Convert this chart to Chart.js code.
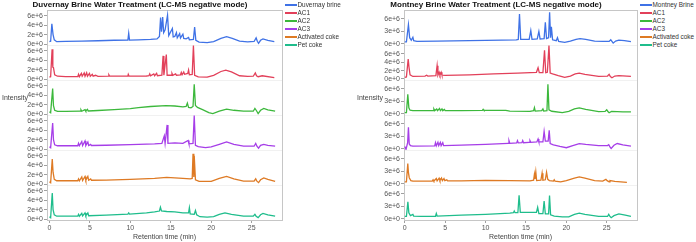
<!DOCTYPE html>
<html>
<head>
<meta charset="utf-8">
<script src="https://cdn.jsdelivr.net/npm/chart.js@4/dist/chart.umd.min.js"></script>
<style>
  html, body { margin: 0; padding: 0; background: #fff; }
  #wrap { position: relative; width: 696px; height: 242px; overflow: hidden; font-family: 'Liberation Sans', Arial, sans-serif; }
  canvas { position: absolute; top: 0; }
  .ttl { position: absolute; top: 0; height: 10px; line-height: 10px; font-weight: bold; font-size: 8px; color: #111; text-align: center; white-space: nowrap; }
  .ylab { position: absolute; font-size: 7px; line-height: 10px; color: #444; }
  .legend { position: absolute; top: 1px; margin: 0; padding: 0; list-style: none; font-size: 6.4px; color: #333; }
  .legend li { height: 8px; line-height: 8px; display: flex; align-items: center; white-space: nowrap; }
  .legend i { display: inline-block; width: 11.5px; height: 1.5px; margin-right: 1px; }
</style>
</head>
<body>
<div id="wrap">
  <canvas id="duvChart" width="290" height="242" style="left:0"></canvas>
  <canvas id="monChart" width="290" height="242" style="left:350px"></canvas>
  <div class="ttl" style="left:0;width:280px">Duvernay Brine Water Treatment (LC-MS negative mode)</div>
  <div class="ttl" style="left:356px;width:280px">Montney Brine Water Treatment (LC-MS negative mode)</div>
  <div class="ylab" style="left:2px;top:93px">Intensity</div>
  <div class="ylab" style="left:357px;top:93px">Intensity</div>
  <ul class="legend" id="duvLegend" style="left:285px"></ul>
  <ul class="legend" id="monLegend" style="left:640px"></ul>
</div>
<script>
// retention time (min), intensity in millions

// Duvernay panel
const duvBrine = [[0,0.5],[0.15,0.6],[0.3,4.3],[0.45,2.0],[0.6,0.9],[0.9,0.5],[2,0.55],[4,0.6],[6,0.7],[8,0.8],[9.7,0.85],[9.8,2.3],[9.9,0.85],[11,0.9],[12.5,1.0],[13.3,1.1],[13.6,1.6],[13.74,5.6],[13.85,2.6],[14.0,5.7],[14.12,2.4],[14.3,3.0],[14.6,6.1],[14.75,1.8],[15.2,3.3],[15.3,1.5],[15.5,1.6],[15.7,2.4],[15.8,1.3],[16.1,2.2],[16.2,1.3],[16.5,2.1],[16.6,1.2],[16.9,1.1],[17.2,1.4],[17.3,0.9],[17.8,1.0],[17.95,3.6],[18.1,0.8],[18.5,0.4],[19.5,0.3],[20.3,0.5],[21.2,1.2],[21.9,1.55],[22.6,1.2],[23.5,0.6],[24.5,0.45],[25.3,0.55],[25.55,1.3],[25.7,0.6],[25.85,0.15],[26.1,0.8],[26.4,1.1],[27,0.8],[27.8,0.5]];
const duvAC1 = [[0,0.4],[0.15,0.5],[0.33,6.3],[0.42,2.5],[0.5,2.4],[0.65,0.9],[1,0.6],[2,0.5],[3.5,0.5],[3.6,1.0],[3.7,0.5],[3.95,1.2],[4.05,0.6],[4.3,1.3],[4.4,0.6],[4.6,1.35],[4.7,0.6],[4.95,1.2],[5.05,0.6],[5.3,1.0],[5.4,0.6],[5.7,0.8],[6,0.55],[7.3,0.6],[7.35,0.9],[7.45,0.6],[9.7,0.6],[9.75,1.0],[9.85,0.6],[12,0.65],[12.3,0.7],[12.4,1.1],[12.5,0.7],[12.9,1.1],[13.0,0.7],[13.25,1.2],[13.35,0.7],[13.9,0.8],[14.05,4.9],[14.15,0.8],[14.45,5.2],[14.55,0.8],[15.1,0.8],[15.15,1.2],[15.25,0.8],[15.6,1.1],[15.7,0.8],[16.2,0.9],[16.3,1.4],[16.4,0.9],[16.6,1.5],[16.7,1.0],[17.1,1.2],[17.2,1.9],[17.3,0.9],[17.65,1.0],[17.8,7.1],[17.95,0.8],[18.4,0.45],[19.5,0.4],[20.3,0.8],[21.2,1.6],[21.8,1.9],[22.5,1.5],[23.5,0.7],[24.5,0.55],[25.2,0.6],[25.45,1.3],[25.6,0.7],[25.8,0.5],[26.3,0.7],[27.8,0.3]];
const duvAC2 = [[0,0.5],[0.15,0.3],[0.4,5.4],[0.5,1.8],[0.65,0.8],[1,0.55],[2,0.55],[3.8,0.6],[3.9,0.9],[4.0,0.6],[4.4,0.95],[4.5,0.65],[4.7,1.0],[4.8,0.65],[6,0.75],[8,0.95],[10,1.15],[11,1.35],[12.5,1.6],[14.4,1.8],[15.5,1.7],[16.5,1.5],[16.9,1.6],[17.05,2.3],[17.2,1.4],[17.5,1.3],[17.75,1.6],[17.9,6.3],[18.05,1.8],[18.3,1.4],[19,0.9],[19.7,0.3],[20.2,0.1],[21,0.6],[21.9,1.05],[22.8,0.8],[24,0.6],[25.2,0.6],[25.4,1.2],[25.6,0.7],[25.8,0.1],[26.1,0.8],[26.5,1.2],[27,0.9],[27.9,0.6]];
const duvAC3 = [[0,0.5],[0.15,0.3],[0.4,5.5],[0.5,2.0],[0.65,0.9],[1,0.7],[3.5,0.7],[3.6,1.2],[3.7,0.7],[4.0,1.6],[4.1,0.75],[4.4,1.7],[4.5,0.75],[4.75,1.5],[4.85,0.75],[5.1,1.0],[5.2,0.75],[7,0.8],[10,0.95],[13,1.1],[13.9,1.2],[14.2,2.8],[14.3,1.2],[14.55,5.1],[14.65,1.2],[15.5,1.3],[16.5,1.2],[17.15,1.8],[17.25,1.1],[17.75,1.2],[17.9,7.1],[18.05,0.8],[18.4,0.5],[19.3,0.3],[20,0.45],[21,1.0],[21.9,1.5],[22.8,1.0],[24,0.6],[25.3,0.6],[25.5,1.2],[25.65,0.6],[25.85,0.2],[26.1,0.8],[26.5,1.0],[27,0.8],[27.9,0.6]];
const duvActCoke = [[0,0.5],[0.15,0.3],[0.35,5.3],[0.45,2.5],[0.6,1.0],[0.9,0.7],[3.5,0.7],[3.6,1.1],[3.7,0.7],[4.0,1.5],[4.1,0.75],[4.4,1.6],[4.5,0.8],[4.75,1.6],[4.85,0.8],[5.1,1.1],[5.2,0.8],[7,0.85],[10,1.0],[13,1.2],[14.5,1.4],[15.5,1.3],[16.5,1.2],[17.4,1.1],[17.65,1.2],[17.75,6.4],[17.85,1.5],[17.9,6.0],[18.05,0.9],[18.5,0.55],[20,0.55],[21,1.2],[21.9,1.6],[22.8,1.1],[24,0.6],[25.3,0.6],[25.5,1.1],[25.65,0.6],[25.85,0.3],[26.1,0.9],[26.5,1.3],[27,1.0],[27.9,0.55]];
const duvPetCoke = [[0,0.5],[0.15,0.3],[0.35,5.5],[0.45,2.0],[0.6,0.9],[0.9,0.6],[3.5,0.6],[3.6,1.0],[3.7,0.6],[4.0,1.2],[4.1,0.65],[4.4,1.3],[4.5,0.7],[4.75,1.3],[4.85,0.7],[7,0.85],[9.7,1.05],[9.8,1.3],[9.9,1.05],[12,1.3],[13,1.5],[13.6,1.7],[13.72,2.5],[13.85,1.7],[14.5,1.6],[15.5,1.5],[16.5,1.3],[17.2,1.3],[17.3,2.4],[17.4,1.1],[17.9,1.0],[18.05,1.8],[18.2,0.9],[18.6,0.5],[19.5,0.4],[20.3,0.5],[21,1.0],[21.7,1.3],[22.5,1.0],[24,0.6],[25.2,0.6],[25.4,1.0],[25.55,0.6],[25.8,0.3],[26.1,0.9],[26.4,1.2],[27,0.9],[27.9,0.6]];

// Montney panel
const monBrine = [[0,0.5],[0.2,0.5],[0.45,4.6],[0.6,1.5],[0.8,0.9],[1.0,1.6],[1.1,0.8],[1.5,0.64],[4,0.7],[8,0.8],[12,0.9],[13.8,1.0],[14.05,1.1],[14.2,7.2],[14.35,1.1],[15.4,1.1],[15.6,3.2],[15.75,1.1],[16.4,1.2],[16.6,3.0],[16.75,1.2],[17.25,1.3],[17.4,5.2],[17.55,1.3],[17.8,1.5],[17.93,7.6],[18.05,1.5],[18.15,4.1],[18.3,1.0],[18.75,0.8],[18.9,1.5],[19.05,0.6],[19.8,0.4],[20.5,0.7],[21.2,1.1],[21.7,1.3],[22.4,1.1],[23.5,0.7],[24.5,0.6],[25.3,0.6],[25.5,1.0],[25.65,0.6],[25.8,0.2],[26.1,0.7],[26.5,0.9],[27.2,0.8],[28,0.55]];
const monAC1 = [[0,0.4],[0.2,0.5],[0.42,4.8],[0.52,2.8],[0.65,1.0],[1,0.6],[2.5,0.7],[2.7,0.9],[2.85,0.7],[3.85,0.8],[4.0,3.2],[4.1,0.9],[4.25,1.6],[4.35,0.9],[4.5,1.6],[4.6,0.9],[5,0.85],[8,1.0],[11,1.2],[14,1.4],[16.3,1.6],[16.5,2.7],[16.65,1.5],[17.1,1.5],[17.3,6.9],[17.45,1.5],[17.65,1.6],[17.85,8.0],[18,1.4],[18.3,1.2],[19,0.8],[19.8,0.4],[20.5,0.7],[21.1,1.2],[21.6,1.4],[22.3,1.1],[24,0.6],[25.1,0.7],[25.3,1.1],[25.45,0.6],[25.65,0.3],[26,0.7],[26.5,0.8],[28,0.6]];
const monAC2 = [[0,0.3],[0.2,0.3],[0.37,4.7],[0.5,1.5],[0.65,0.9],[1,0.8],[3.5,0.8],[3.6,1.2],[3.7,0.8],[3.95,1.2],[4.05,0.8],[4.3,1.3],[4.4,0.8],[4.6,1.2],[4.7,0.8],[4.9,1.1],[5.0,0.8],[7,0.8],[9.6,0.85],[9.7,1.1],[9.8,0.85],[12.5,0.85],[13,0.7],[15.5,0.6],[15.95,0.8],[16.05,1.5],[16.15,0.7],[16.95,0.8],[17.1,1.2],[17.2,0.7],[17.6,0.8],[17.72,7.1],[17.85,1.0],[18.2,0.65],[19.5,0.3],[20.3,0.6],[21,1.2],[21.6,1.45],[22.4,1.1],[24,0.55],[24.8,0.6],[25.0,1.0],[25.15,0.6],[25.3,0.3],[25.6,0.6],[27,0.5],[28,0.5]];
const monAC3 = [[0,0.6],[0.15,-0.1],[0.35,1.5],[0.45,5.2],[0.55,1.2],[0.7,0.8],[1,0.7],[3.7,0.75],[3.8,1.5],[3.9,0.75],[4.1,1.6],[4.2,0.8],[4.4,1.6],[4.5,0.8],[4.7,1.5],[4.8,0.8],[7,0.9],[10,1.1],[12.8,1.35],[12.9,2.0],[13.0,1.35],[13.85,1.45],[13.95,2.0],[14.05,1.45],[14.5,1.5],[14.6,2.0],[14.7,1.5],[15.4,1.6],[15.5,2.0],[15.6,1.6],[16.35,1.7],[16.5,2.4],[16.6,1.7],[17.1,1.7],[17.25,4.2],[17.4,1.9],[17.75,1.9],[17.88,4.5],[18,1.3],[18.4,1.0],[19.2,0.6],[20,0.3],[20.8,0.8],[21.6,1.3],[22.4,1.1],[24,0.8],[25.1,0.8],[25.25,1.0],[25.4,0.5],[25.55,0.1],[25.9,0.9],[26.3,1.3],[27,1.0],[28,0.7]];
const monActCoke = [[0,0.5],[0.2,0.5],[0.37,4.9],[0.45,2.7],[0.55,1.5],[0.75,0.8],[1,0.7],[3.4,0.7],[3.5,1.0],[3.6,0.7],[3.9,1.3],[4.0,0.75],[4.25,1.4],[4.35,0.8],[4.55,1.4],[4.65,0.8],[4.85,1.3],[4.95,0.8],[5.2,1.0],[5.3,0.75],[7,0.75],[10,0.85],[13,0.8],[15.5,0.75],[15.95,0.9],[16.05,2.3],[16.12,1.2],[16.22,2.9],[16.32,0.8],[16.85,0.9],[17.0,2.6],[17.1,0.9],[17.4,1.0],[17.55,2.8],[17.7,1.1],[17.9,0.8],[18.4,0.7],[18.5,1.0],[18.6,0.7],[19.3,0.5],[20,0.8],[21,1.4],[21.6,1.7],[22.3,1.4],[23.5,0.8],[24.5,0.7],[24.9,1.1],[25.05,0.8],[25.3,0.5],[25.4,0.8],[26,0.6],[27.5,0.4]];
const monPetCoke = [[0,0.6],[0.2,0.6],[0.38,4.1],[0.5,1.5],[0.7,0.8],[1.0,1.1],[1.1,0.7],[2,0.6],[3.8,0.65],[3.9,1.3],[4.0,0.7],[7,0.9],[10,1.1],[13,1.4],[13.45,1.5],[13.55,1.9],[13.65,1.5],[14.0,1.5],[14.15,5.7],[14.3,1.6],[16.3,1.6],[16.45,2.8],[16.6,1.3],[17.1,1.3],[17.25,4.3],[17.4,1.2],[17.8,1.2],[17.92,5.6],[18.05,1.0],[18.5,0.7],[19.5,0.5],[20.3,0.5],[21,1.1],[21.6,1.4],[22.3,1.1],[24,0.6],[25.1,0.6],[25.25,1.1],[25.4,0.6],[25.55,0.3],[25.9,0.8],[26.5,1.2],[27.3,0.9],[28,0.6]];

const duvLabels = ['Duvernay brine', 'AC1', 'AC2', 'AC3', 'Activated coke', 'Pet coke'];
const monLabels = ['Montney Brine', 'AC1', 'AC2', 'AC3', 'Activated coke', 'Pet coke'];
const seriesColors = ['#3f72e6', '#e2405a', '#3cb83c', '#a63ee8', '#de7a24', '#1fbd8c'];

const timeTicks = [0, 5, 10, 15, 20, 25];
const duvTicks = [0, 2e6, 4e6, 6e6];
const monTicks = [0, 3e6, 6e6];
const monAC1Ticks = [0, 2e6, 4e6, 6e6];

Chart.defaults.font.family = "'Liberation Sans', Arial, sans-serif";

// plot frame + faint row separators
const rowFrames = {
    id: 'rowFrames',
    beforeDatasetsDraw(chart) {
        const {ctx, chartArea: a} = chart;
        const left = Math.round(a.left) + 0.5;
        const right = Math.round(a.right) + 0.5;
        ctx.save();
        ctx.lineWidth = 1;
        ctx.strokeStyle = '#f1f1f1';
        Object.values(chart.scales).forEach((s) => {
            if (s.axis !== 'y' || s.bottom >= a.bottom - 1) return;
            const y = Math.round(s.bottom) + 0.5;
            ctx.beginPath();
            ctx.moveTo(left, y);
            ctx.lineTo(right, y);
            ctx.stroke();
        });
        ctx.strokeStyle = '#c6c6c6';
        ctx.strokeRect(left, Math.round(a.top) + 0.5, right - left, Math.round(a.bottom) - Math.round(a.top));
        ctx.restore();
    }
};

function buildPanel(canvasId, legendId, labels, series, tickSets, yRange, xMin, axisWidth, padRight) {
    const tickFont = {size: 7};
    const scales = {
        x: {
            type: 'linear',
            min: xMin,
            max: 28.75,
            afterBuildTicks: (s) => { s.ticks = timeTicks.map((v) => ({value: v})); },
            afterFit: (s) => { s.height = 22; },
            grid: {drawOnChartArea: false, tickLength: 3, color: '#a0a0a0'},
            border: {display: false},
            ticks: {font: tickFont, color: '#555', padding: 1, maxRotation: 0},
            title: {display: true, text: 'Retention time (min)', font: {size: 7}, color: '#444', padding: {top: 0, bottom: 1}}
        }
    };
    series.forEach((pts, i) => {
        scales['y' + i] = {
            type: 'linear',
            position: 'left',
            stack: 'rows',
            stackWeight: 1,
            weight: series.length - i,
            min: yRange[0],
            max: yRange[1],
            afterBuildTicks: (s) => { s.ticks = tickSets[i].map((v) => ({value: v})); },
            afterFit: (s) => { s.width = axisWidth; },
            grid: {drawOnChartArea: false, tickLength: 3, color: '#a0a0a0'},
            border: {display: false},
            ticks: {font: tickFont, color: '#555', padding: 1, autoSkip: false, callback: (v) => Number(v).toExponential()}
        };
    });

    const datasets = series.map((pts, i) => ({
        label: labels[i],
        data: pts.map(([t, v]) => ({x: t, y: v * 1e6})),
        yAxisID: 'y' + i,
        borderColor: seriesColors[i],
        borderWidth: 1.3,
        pointRadius: 0,
        tension: 0
    }));

    const chart = new Chart(document.getElementById(canvasId), {
        type: 'line',
        data: {datasets},
        options: {
            responsive: false,
            animation: false,
            layout: {padding: {top: 10, left: 0, right: padRight, bottom: 0}},
            plugins: {legend: {display: false}, title: {display: false}, tooltip: {enabled: false}},
            scales
        },
        plugins: [rowFrames]
    });

    // html legend from the chart's datasets
    const ul = document.getElementById(legendId);
    chart.data.datasets.forEach((ds) => {
        const li = document.createElement('li');
        const sw = document.createElement('i');
        sw.style.background = ds.borderColor;
        li.appendChild(sw);
        li.appendChild(document.createTextNode(ds.label));
        ul.appendChild(li);
    });
    return chart;
}

buildPanel('duvChart', 'duvLegend', duvLabels,
    [duvBrine, duvAC1, duvAC2, duvAC3, duvActCoke, duvPetCoke],
    [duvTicks, duvTicks, duvTicks, duvTicks, duvTicks, duvTicks],
    [-0.2e6, 7.2e6], -0.3, 47, 8);

buildPanel('monChart', 'monLegend', monLabels,
    [monBrine, monAC1, monAC2, monAC3, monActCoke, monPetCoke],
    [monTicks, monAC1Ticks, monTicks, monTicks, monTicks, monTicks],
    [-0.25e6, 8.15e6], -0.1, 54, 3);
</script>
</body>
</html>
